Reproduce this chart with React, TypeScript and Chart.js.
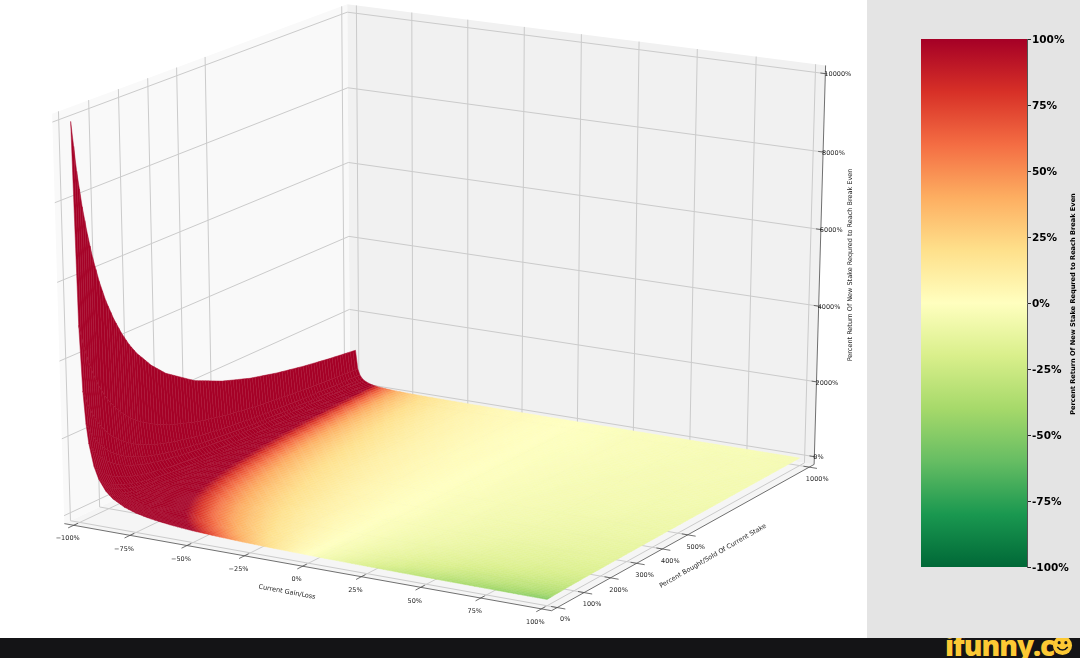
import React, { useEffect, useRef } from "react";
import { Chart, registerables } from "chart.js";

Chart.register(...registerables);

// ---------- data ----------
const gainTicks = [-100, -75, -50, -25, 0, 25, 50, 75, 100];
const stakeTicks = [0, 100, 200, 300, 400, 500, 1000];
const returnTicks = [0, 2000, 4000, 6000, 8000, 10000];
const colorbarTicks = [-100, -75, -50, -25, 0, 25, 50, 75, 100];

const gainGrid = [-99, -98, -97, -96, -95, -93, -91, -88, -85, -80, -75, -70, -65, -60, -55, -50, -45, -40, -35, -30, -25, -20, -15, -10, -5, 0, 5, 10, 15, 20, 25, 30, 35, 40, 50, 60, 70, 80, 90, 100];
const stakeGrid = [0, 15, 30, 45, 60, 80, 100, 125, 150, 175, 200, 250, 300, 400, 500, 600, 700, 800, 900, 1000];

// one row per gain, one column per stake
const returnTable = [
  [10000, 8722, 7791, 7049, 6425, 5752, 5207, 4663, 4217, 3841, 3534, 3049, 2673, 2148, 1802, 1544, 1356, 1208, 1089, 990],
  [4900, 4317, 3856, 3489, 3180, 2847, 2577, 2308, 2087, 1901, 1749, 1509, 1323, 1063, 892, 764, 671, 598, 539, 490],
  [3233, 2848, 2544, 2302, 2098, 1878, 1701, 1523, 1377, 1254, 1154, 996, 873, 702, 588, 504, 443, 394, 356, 323],
  [2400, 2114, 1889, 1709, 1558, 1394, 1262, 1130, 1022, 931, 857, 739, 648, 521, 437, 374, 329, 293, 264, 240],
  [1900, 1674, 1495, 1353, 1233, 1104, 999, 895, 809, 737, 678, 585, 513, 412, 346, 296, 260, 232, 209, 190],
  [1329, 1171, 1046, 946, 863, 772, 699, 626, 566, 516, 474, 409, 359, 288, 242, 207, 182, 162, 146, 133],
  [1011, 891, 796, 720, 656, 587, 532, 476, 431, 392, 361, 311, 273, 219, 184, 158, 139, 123, 111, 101],
  [733, 646, 577, 522, 476, 426, 386, 345, 312, 284, 262, 226, 198, 159, 133, 114, 100, 89, 81, 73],
  [567, 500, 446, 404, 368, 329, 298, 267, 242, 220, 202, 175, 153, 123, 103, 88, 78, 69, 62, 57],
  [400, 352, 315, 285, 260, 232, 210, 188, 170, 155, 143, 123, 108, 87, 73, 62, 55, 49, 44, 40],
  [300, 264, 236, 214, 195, 174, 158, 141, 128, 116, 107, 92, 81, 65, 55, 47, 41, 37, 33, 30],
  [233, 205, 183, 166, 151, 135, 123, 110, 99, 90, 83, 72, 63, 51, 42, 36, 32, 28, 26, 23],
  [186, 164, 146, 132, 121, 108, 98, 88, 79, 72, 66, 57, 50, 40, 34, 29, 25, 23, 20, 19],
  [150, 132, 118, 107, 97, 87, 79, 71, 64, 58, 54, 46, 41, 33, 27, 23, 21, 18, 17, 15],
  [122, 107, 96, 87, 79, 71, 64, 57, 52, 47, 44, 38, 33, 26, 22, 19, 17, 15, 13, 12],
  [100, 88, 79, 71, 65, 58, 53, 47, 43, 39, 36, 31, 27, 22, 18, 16, 14, 12, 11, 10],
  [82, 72, 65, 58, 53, 48, 43, 39, 35, 32, 29, 25, 22, 18, 15, 13, 11, 10, 9, 8],
  [67, 59, 53, 48, 43, 39, 35, 32, 29, 26, 24, 21, 18, 15, 12, 10, 9, 8, 7, 7],
  [54, 48, 42, 38, 35, 31, 28, 25, 23, 21, 19, 17, 15, 12, 10, 8, 7, 7, 6, 5],
  [43, 38, 34, 31, 28, 25, 23, 20, 18, 17, 15, 13, 12, 9, 8, 7, 6, 5, 5, 4],
  [33, 29, 26, 23, 21, 19, 17, 16, 14, 13, 12, 10, 9, 7, 6, 5, 5, 4, 4, 3],
  [25, 22, 20, 18, 16, 15, 13, 12, 11, 10, 9, 8, 7, 5, 5, 4, 3, 3, 3, 3],
  [18, 16, 14, 13, 12, 10, 9, 8, 8, 7, 6, 5, 5, 4, 3, 3, 2, 2, 2, 2],
  [11, 10, 9, 8, 7, 6, 6, 5, 5, 4, 4, 3, 3, 2, 2, 2, 2, 1, 1, 1],
  [5, 4, 4, 4, 3, 3, 3, 2, 2, 2, 2, 2, 1, 1, 1, 1, 1, 1, 1, 1],
  [0, 0, 0, 0, 0, 0, 0, 0, 0, 0, 0, 0, 0, 0, 0, 0, 0, 0, 0, 0],
  [-5, -4, -4, -4, -3, -3, -3, -2, -2, -2, -2, -2, -1, -1, -1, -1, -1, -1, -1, 0],
  [-9, -8, -7, -6, -6, -5, -5, -4, -4, -3, -3, -3, -2, -2, -2, -1, -1, -1, -1, -1],
  [-13, -11, -10, -9, -8, -8, -7, -6, -6, -5, -5, -4, -4, -3, -2, -2, -2, -2, -1, -1],
  [-17, -15, -13, -12, -11, -10, -9, -8, -7, -7, -6, -5, -5, -4, -3, -3, -2, -2, -2, -2],
  [-20, -18, -16, -14, -13, -12, -11, -9, -9, -8, -7, -6, -5, -4, -4, -3, -3, -2, -2, -2],
  [-23, -20, -18, -16, -15, -13, -12, -11, -10, -9, -8, -7, -6, -5, -4, -4, -3, -3, -3, -2],
  [-26, -23, -20, -19, -17, -15, -14, -12, -11, -10, -9, -8, -7, -6, -5, -4, -4, -3, -3, -3],
  [-29, -26, -23, -21, -19, -17, -15, -14, -12, -11, -10, -9, -8, -6, -5, -5, -4, -4, -3, -3],
  [-33, -29, -26, -23, -21, -19, -17, -16, -14, -13, -12, -10, -9, -7, -6, -5, -5, -4, -4, -3],
  [-38, -33, -30, -27, -25, -22, -20, -18, -16, -15, -14, -12, -10, -8, -7, -6, -5, -5, -4, -4],
  [-41, -36, -32, -29, -27, -24, -22, -19, -17, -16, -15, -13, -11, -9, -7, -6, -6, -5, -5, -4],
  [-44, -39, -35, -31, -29, -26, -23, -21, -19, -17, -16, -14, -12, -10, -8, -7, -6, -5, -5, -4],
  [-47, -41, -37, -33, -31, -27, -25, -22, -20, -18, -17, -14, -13, -10, -9, -7, -6, -6, -5, -5],
  [-50, -44, -39, -36, -32, -29, -26, -24, -21, -19, -18, -15, -14, -11, -9, -8, -7, -6, -6, -5],
];

const zTitle = "Percent Return Of New Stake Requred to Reach Break Even";
const xTitle = "Current Gain/Loss";
const yTitle = "Percent Bought/Sold Of Current Stake";

// RdYlGn reversed, from -100% to +100%
const cmapStops = ["#006837", "#1a9850", "#66bd63", "#a6d96a", "#d9ef8b", "#ffffbf", "#fee08b", "#fdae61", "#f46d43", "#d73027", "#a50026"];

// ---------- camera ----------
const ELEV = (20 * Math.PI) / 180;
const AZIM = (-60 * Math.PI) / 180;
const DIST = 11;
const SCALE_X = 6130;
const SCALE_Y = 4733;
const ORIGIN_X = 445;
const ORIGIN_Y = 294.5;

const nv = [Math.cos(ELEV) * Math.cos(AZIM), Math.cos(ELEV) * Math.sin(AZIM), Math.sin(ELEV)];
const uv = [-Math.sin(AZIM), Math.cos(AZIM), 0];
const vv = [nv[1] * uv[2] - nv[2] * uv[1], nv[2] * uv[0] - nv[0] * uv[2], nv[0] * uv[1] - nv[1] * uv[0]];

function cube(u: number, v: number, w: number) {
  const p = [u - 0.5, v - 0.5, w - 0.5];
  const dot = (a: number[]) => a[0] * p[0] + a[1] * p[1] + a[2] * p[2];
  const depth = DIST - dot(nv);
  return { x: ORIGIN_X + (SCALE_X * dot(uv)) / depth, y: ORIGIN_Y - (SCALE_Y * dot(vv)) / depth };
}
const uOf = (g: number) => 0.02 + (0.96 * (g + 100)) / 200;
const vOf = (s: number) => 0.02 + (0.96 * s) / 1000;
const wOf = (r: number) => 0.02 + (0.96 * r) / 10000;

// ---------- colours ----------
function hex(c: string) {
  return [parseInt(c.slice(1, 3), 16), parseInt(c.slice(3, 5), 16), parseInt(c.slice(5, 7), 16)];
}
const stopsRgb = cmapStops.map(hex);
function rgbOf(r: number) {
  const t = Math.max(0, Math.min(0.99999, (r + 100) / 200)) * (stopsRgb.length - 1);
  const i = Math.floor(t);
  const f = t - i;
  const a = stopsRgb[i];
  const b = stopsRgb[i + 1];
  return [a[0] + (b[0] - a[0]) * f, a[1] + (b[1] - a[1]) * f, a[2] + (b[2] - a[2]) * f];
}
const css = (c: number[]) => `rgb(${Math.round(c[0])},${Math.round(c[1])},${Math.round(c[2])})`;
const SEAM = 0.07;

// ---------- datasets ----------
const GAP = { x: null, y: null } as any;
function polyline(points: number[][]) {
  return points.map((p) => cube(p[0], p[1], p[2]));
}
const paneLeft = polyline([[0, 0, 0], [0, 1, 0], [0, 1, 1], [0, 0, 1]]);
const paneBack = polyline([[0, 1, 0], [1, 1, 0], [1, 1, 1], [0, 1, 1]]);
const paneFloor = polyline([[0, 0, 0], [1, 0, 0], [1, 1, 0], [0, 1, 0]]);

const gridPoints: any[] = [];
gainTicks.forEach((g) => gridPoints.push(...polyline([[uOf(g), 0, 0], [uOf(g), 1, 0], [uOf(g), 1, 1]]), GAP));
stakeTicks.forEach((s) => gridPoints.push(...polyline([[1, vOf(s), 0], [0, vOf(s), 0], [0, vOf(s), 1]]), GAP));
returnTicks.forEach((r) => gridPoints.push(...polyline([[1, 1, wOf(r)], [0, 1, wOf(r)], [0, 0, wOf(r)]]), GAP));

const axisPoints: any[] = [...polyline([[0, 0, 0], [1, 0, 0], [1, 1, 0], [1, 1, 1]]), GAP];
gainTicks.forEach((g) => axisPoints.push(...polyline([[uOf(g), -0.018, 0], [uOf(g), 0.014, 0]]), GAP));
stakeTicks.forEach((s) => axisPoints.push(...polyline([[1.016, vOf(s), 0], [0.988, vOf(s), 0]]), GAP));
returnTicks.forEach((r) => axisPoints.push(...polyline([[1.004, 1, wOf(r)], [0.99, 1, wOf(r)]]), GAP));

const surfaceNodes: any[] = [];
gainGrid.forEach((g, i) =>
  stakeGrid.forEach((s, j) => {
    const r = returnTable[i][j];
    surfaceNodes.push({ ...cube(uOf(g), vOf(s), wOf(r)), r });
  })
);

const FONT = "'DejaVu Sans'";

const surfacePlugin = {
  id: "surfaceMesh",
  afterDatasetDraw(chart: any, args: any) {
    if (chart.data.datasets[args.index].label !== "surface") return;
    const pts = args.meta.data;
    const raw = chart.data.datasets[args.index].data;
    const ns = stakeGrid.length;
    const ctx = chart.ctx;
    ctx.save();
    ctx.lineWidth = 0.5;
    ctx.lineJoin = "round";
    const at = (i: number, j: number) => pts[i * ns + j];
    const rv = (i: number, j: number) => raw[i * ns + j].r;
    for (let j = ns - 2; j >= 0; j--) {
      for (let i = 0; i < gainGrid.length - 1; i++) {
        const a = at(i, j), b = at(i + 1, j), c = at(i + 1, j + 1), d = at(i, j + 1);
        const ra = rv(i, j), rb = rv(i + 1, j), rc = rv(i + 1, j + 1), rd = rv(i, j + 1);
        const nu = Math.max(1, Math.round((gainGrid[i + 1] - gainGrid[i]) / 2));
        const nw = Math.max(1, Math.round((stakeGrid[j + 1] - stakeGrid[j]) / 10));
        const lerp = (s: number, t: number) => ({
          x: (1 - t) * ((1 - s) * a.x + s * b.x) + t * ((1 - s) * d.x + s * c.x),
          y: (1 - t) * ((1 - s) * a.y + s * b.y) + t * ((1 - s) * d.y + s * c.y),
        });
        for (let tk = nw - 1; tk >= 0; tk--) {
          for (let sk = 0; sk < nu; sk++) {
            const s0 = sk / nu, s1 = (sk + 1) / nu, t0 = tk / nw, t1 = (tk + 1) / nw;
            const sm = (s0 + s1) / 2, tm = (t0 + t1) / 2;
            const r = (1 - tm) * ((1 - sm) * ra + sm * rb) + tm * ((1 - sm) * rd + sm * rc);
            const rgb = rgbOf(r);
            const p1 = lerp(s0, t0), p2 = lerp(s1, t0), p3 = lerp(s1, t1), p4 = lerp(s0, t1);
            ctx.beginPath();
            ctx.moveTo(p1.x, p1.y);
            ctx.lineTo(p2.x, p2.y);
            ctx.lineTo(p3.x, p3.y);
            ctx.lineTo(p4.x, p4.y);
            ctx.closePath();
            ctx.fillStyle = css(rgb);
            ctx.strokeStyle = css(rgb.map((v) => v + (255 - v) * SEAM));
            ctx.fill();
            ctx.stroke();
          }
        }
      }
    }
    ctx.restore();
  },
};

const labelPlugin = {
  id: "axisText",
  afterDraw(chart: any) {
    const ctx = chart.ctx;
    const sx = chart.scales.x;
    const sy = chart.scales.y;
    const put = (t: string, p: { x: number; y: number }, dx: number, dy: number, align: CanvasTextAlign) => {
      ctx.textAlign = align;
      ctx.fillText(t, sx.getPixelForValue(p.x) + dx, sy.getPixelForValue(p.y) + dy);
    };
    ctx.save();
    ctx.fillStyle = "#1f1f1f";
    ctx.textBaseline = "middle";
    ctx.font = `6.5px ${FONT}`;
    gainTicks.forEach((g) => put(`${g < 0 ? "\u2212" : ""}${Math.abs(g)}%`, cube(uOf(g), 0, 0), -6, 13.5, "center"));
    stakeTicks.forEach((s) => put(`${s}%`, cube(1, vOf(s), 0), 8, 12, "center"));
    returnTicks.forEach((r) => put(`${r}%`, cube(1, 1, wOf(r)), -1, 1, "left"));
    const rotated = (t: string, x: number, y: number, deg: number) => {
      ctx.save();
      ctx.translate(x, y);
      ctx.rotate((deg * Math.PI) / 180);
      ctx.textAlign = "center";
      ctx.fillText(t, 0, 0);
      ctx.restore();
    };
    rotated(xTitle, 287, 592, 10.5);
    rotated(yTitle, 713, 556, -30);
    rotated(zTitle, 850, 265, -90);
    ctx.restore();
  },
};

const colorbarTitle = {
  id: "colorbarTitle",
  afterDraw(chart: any) {
    const ctx = chart.ctx;
    ctx.save();
    ctx.translate(206, 304);
    ctx.rotate(-Math.PI / 2);
    ctx.font = `bold 6.6px ${FONT}`;
    ctx.fillStyle = "#000";
    ctx.textAlign = "center";
    ctx.textBaseline = "middle";
    ctx.fillText(zTitle, 0, 0);
    ctx.restore();
  },
};

export default function App() {
  const mainRef = useRef<HTMLCanvasElement>(null);
  const barRef = useRef<HTMLCanvasElement>(null);

  useEffect(() => {
    const line = (label: string, data: any[], extra: any) => ({ label, data, type: "line", pointRadius: 0, pointHoverRadius: 0, spanGaps: false, tension: 0, clip: false, ...extra });
    const main = new Chart(mainRef.current as any, {
      type: "line",
      data: {
        datasets: [
          line("surface", surfaceNodes, { showLine: false, order: 1 }),
          line("axes", axisPoints, { borderColor: "#4d4d4d", borderWidth: 0.8, order: 0 }),
          line("grid", gridPoints, { borderColor: "#cbcbcb", borderWidth: 1, order: 2 }),
          line("left pane", paneLeft, { fill: "shape", backgroundColor: "#f9f9f9", borderWidth: 0, order: 3 }),
          line("back pane", paneBack, { fill: "shape", backgroundColor: "#f1f1f1", borderWidth: 0, order: 3 }),
          line("floor pane", paneFloor, { fill: "shape", backgroundColor: "#f5f5f5", borderWidth: 0, order: 3 }),
        ] as any,
      },
      options: {
        responsive: false,
        animation: false,
        layout: { padding: 0 },
        plugins: { legend: { display: false }, tooltip: { enabled: false } },
        scales: {
          x: { type: "linear", display: false, min: 0, max: 867 },
          y: { type: "linear", display: false, min: 0, max: 638, reverse: true },
        },
      },
      plugins: [surfacePlugin, labelPlugin],
    } as any);

    const bar = new Chart(barRef.current as any, {
      type: "bar",
      data: {
        labels: ["colorbar"],
        datasets: [
          {
            data: [[-100, 100]],
            barPercentage: 1,
            categoryPercentage: 1,
            borderWidth: 0,
            backgroundColor: (c: any) => {
              const area = c.chart.chartArea;
              if (!area) return "#a50026";
              const g = c.chart.ctx.createLinearGradient(0, area.bottom, 0, area.top);
              cmapStops.forEach((col, i) => g.addColorStop(i / (cmapStops.length - 1), col));
              return g;
            },
          },
        ] as any,
      },
      options: {
        responsive: false,
        animation: false,
        layout: { padding: { left: 54, top: 39, bottom: 71, right: 0 } },
        plugins: { legend: { display: false }, tooltip: { enabled: false } },
        scales: {
          x: { display: false },
          y: {
            position: "right",
            min: -100,
            max: 100,
            afterBuildTicks: (s: any) => {
              s.ticks = colorbarTicks.map((value) => ({ value }));
            },
            afterFit: (s: any) => {
              s.width = 53;
            },
            grid: { display: true, drawOnChartArea: false, color: "#222", tickLength: 4, tickWidth: 1 },
            border: { display: true, color: "#555", width: 1 },
            ticks: {
              callback: (v: any) => `${v}%`,
              color: "#000",
              padding: 1,
              labelOffset: 1,
              autoSkip: false,
              font: { family: "DejaVu Sans", weight: "bold", size: 10.5 },
            },
          },
        },
      },
      plugins: [colorbarTitle],
    } as any);

    return () => {
      main.destroy();
      bar.destroy();
    };
  }, []);

  return (
    <div style={{ position: "absolute", left: 0, top: 0, width: 1080, height: 658, overflow: "hidden", background: "#fff" }}>
      <canvas ref={mainRef} width={867} height={638} style={{ position: "absolute", left: 0, top: 0, filter: "blur(0.35px)" }} />
      <div style={{ position: "absolute", left: 867, top: 0, width: 213, height: 638, background: "#e4e4e4" }}>
        <canvas ref={barRef} width={213} height={638} style={{ display: "block" }} />
      </div>
      <div style={{ position: "absolute", left: 0, top: 638, width: 1080, height: 20, background: "#141416", overflow: "hidden" }}>
        <span style={{ position: "absolute", left: 945, top: -7, fontFamily: "'Open Sans', sans-serif", fontWeight: 800, fontSize: 28, lineHeight: "28px", color: "#fcc934", letterSpacing: -1 }}>ifunny.c</span>
        <svg style={{ position: "absolute", left: 1052, top: -3 }} width="21" height="21" viewBox="0 0 22 22">
          <circle cx="11" cy="11" r="10" fill="#fcc934" />
          <circle cx="7.5" cy="8" r="1.6" fill="#141416" />
          <circle cx="14.5" cy="8" r="1.6" fill="#141416" />
          <path d="M5.5 12.5 Q11 19 16.5 12.5" stroke="#141416" strokeWidth="1.6" fill="none" />
        </svg>
      </div>
    </div>
  );
}
